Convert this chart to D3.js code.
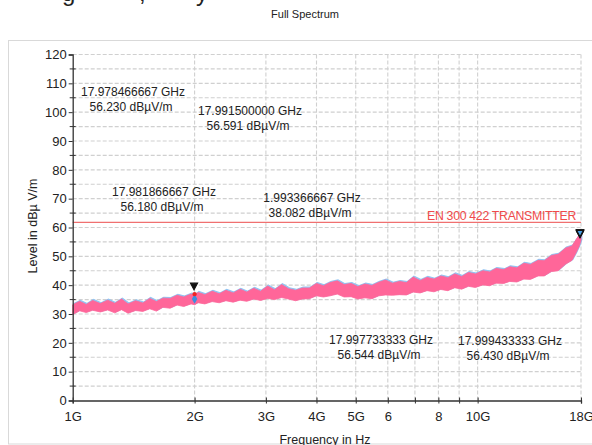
<!DOCTYPE html>
<html>
<head>
<meta charset="utf-8">
<script src="https://cdn.jsdelivr.net/npm/d3@7"></script>
<style>
  body { margin: 0; background: #fff; }
  svg { display: block; font-family: "Liberation Sans", Arial, sans-serif; }
</style>
</head>
<body>
<svg id="chart" width="592" height="445"></svg>
<script>
// trace: frequency (GHz), upper and lower edge of the peak trace (dBµV/m)
const freqGHz = [1.00, 1.04, 1.08, 1.12, 1.17, 1.22, 1.27, 1.32, 1.37, 1.43, 1.49, 1.55, 1.61, 1.67, 1.74,
  1.81, 1.88, 1.96, 2.00, 2.04, 2.12, 2.21, 2.30, 2.39, 2.49, 2.59, 2.69, 2.80, 2.91, 3.03, 3.15, 3.28,
  3.41, 3.55, 3.69, 3.84, 4.00, 4.16, 4.32, 4.50, 4.68, 4.87, 5.06, 5.27, 5.48, 5.70, 5.92, 6.16, 6.41,
  6.67, 6.93, 7.21, 7.50, 7.80, 8.11, 8.44, 8.78, 9.13, 9.49, 9.87, 10.3, 10.7, 11.1, 11.6, 12.0, 12.5,
  13.0, 13.5, 14.1, 14.6, 15.2, 15.8, 16.5, 17.1, 17.5, 17.8, 18.0];
const traceHi = [33.2, 34.4, 33.3, 34.7, 33.6, 34.8, 33.7, 35.2, 33.5, 34.6, 33.8, 35.4, 34.3, 35.5, 35.4,
  36.5, 35.9, 36.9, 36.5, 37.5, 36.7, 37.9, 37.0, 38.2, 37.3, 38.6, 37.6, 38.9, 37.9, 39.7, 38.4, 40.2,
  38.8, 38.2, 39.0, 39.0, 40.6, 39.8, 40.9, 41.5, 40.2, 40.6, 39.5, 40.4, 39.9, 41.0, 41.8, 40.7, 41.3,
  40.9, 42.8, 41.6, 42.7, 42.1, 43.2, 42.6, 43.9, 43.0, 44.4, 43.9, 45.0, 44.6, 45.8, 45.4, 46.4, 46.0,
  47.6, 47.2, 48.6, 48.5, 50.3, 50.7, 52.9, 53.6, 55.8, 57.3, 57.6];
const traceLo = [29.8, 31.1, 30.5, 31.3, 30.7, 31.4, 30.4, 31.5, 30.3, 31.2, 30.9, 31.8, 31.0, 32.3, 32.0,
  33.1, 32.6, 33.5, 33.2, 33.9, 33.5, 34.3, 33.9, 34.6, 34.1, 34.8, 34.4, 35.2, 34.7, 35.4, 35.0, 35.7,
  35.2, 34.6, 35.2, 35.3, 36.3, 35.9, 36.3, 36.9, 35.9, 36.0, 35.2, 35.6, 35.3, 36.3, 36.6, 36.5, 36.7,
  36.6, 37.6, 37.3, 38.1, 37.7, 38.5, 38.1, 39.1, 38.6, 39.6, 39.2, 40.1, 39.8, 40.7, 40.6, 41.3, 41.1,
  42.1, 42.0, 43.2, 43.2, 44.7, 45.0, 47.3, 48.6, 51.2, 53.4, 55.5];

// limit line
const limitLevel = 61.8;
const limitName = "EN 300 422 TRANSMITTER";

// markers
const markerFreqGHz = [1.993366667, 17.978466667, 17.991500000, 17.981866667, 17.997733333, 17.999433333];
const markerLevel = [38.082, 56.230, 56.591, 56.180, 56.544, 56.430];
const markerFreqText = ["1.993366667 GHz", "17.978466667 GHz", "17.991500000 GHz", "17.981866667 GHz",
  "17.997733333 GHz", "17.999433333 GHz"];
const markerLevelText = ["38.082 dBµV/m", "56.230 dBµV/m", "56.591 dBµV/m", "56.180 dBµV/m",
  "56.544 dBµV/m", "56.430 dBµV/m"];
// other detectors at the 2 GHz marker
const dotFreqGHz = [2.0];
const dotLevel = [36.9];
const diamondFreqGHz = [2.0];
const diamondLevel = [35.2];

// axes
const xTickGHz = [1, 2, 3, 4, 5, 6, 7, 8, 9, 10, 18];
const xTickText = ["1G", "2G", "3G", "4G", "5G", "6", "", "8", "", "10G", "18G"];
const yTicks = [0, 10, 20, 30, 40, 50, 60, 70, 80, 90, 100, 110, 120];
const yMinor = [5, 15, 25, 35, 45, 55, 65, 75, 85, 95, 105, 115];
const gridLevels = [5, 10, 15, 20, 25, 30, 35, 40, 45, 50, 55, 60, 65, 70, 75, 80, 85, 90, 95, 100, 105, 110, 115, 120];

const svg = d3.select('#chart');
const ink = '#222';

const x = d3.scaleLog().domain([1, 18]).range([72.7, 581]);
const y = d3.scaleLinear().domain([0, 120]).range([400.5, 54.5]);

// frame and title
svg.append('rect')
  .attr('x', 8.5).attr('y', 40.5).attr('width', 600).attr('height', 403.5)
  .attr('fill', 'none').attr('stroke', '#d9d9d9');

// cropped heading above the picture (only its descenders show)
[['g', 62], [',', 139], ['y', 196]].forEach(([t, px]) => {
  svg.append('text').attr('x', px).attr('y', 1).attr('font-size', 24).attr('fill', ink).text(t);
});

svg.append('text')
  .attr('x', 305).attr('y', 18)
  .attr('text-anchor', 'middle').attr('font-size', 11).attr('fill', ink)
  .text('Full Spectrum');

// grid
const grid = svg.append('g').attr('class', 'grid');
grid.selectAll('line.h')
  .data(gridLevels)
  .join('line')
  .attr('class', 'h')
  .attr('x1', x(1)).attr('x2', x(18))
  .attr('y1', d => y(d)).attr('y2', d => y(d))
  .style('stroke', '#d0d0d0').style('stroke-width', 1.1).style('stroke-dasharray', '4,2');
grid.selectAll('line.v')
  .data(xTickGHz.slice(1))
  .join('line')
  .attr('class', 'v')
  .attr('y1', y(0)).attr('y2', y(120))
  .attr('x1', d => x(d)).attr('x2', d => x(d))
  .style('stroke', '#d0d0d0').style('stroke-width', 1.1).style('stroke-dasharray', '4,2');

// limit line
svg.append('line')
  .attr('x1', x(1)).attr('x2', x(18))
  .attr('y1', y(limitLevel)).attr('y2', y(limitLevel))
  .attr('stroke', '#f07070').attr('stroke-width', 1.3);
svg.append('text')
  .attr('x', 576).attr('y', y(limitLevel) - 2)
  .attr('text-anchor', 'end').attr('font-size', 12.3).attr('fill', '#f04a4a')
  .attr('letter-spacing', -0.3)
  .text(limitName);

// trace: light blue average behind, pink peak on top
const trace = freqGHz.map((f, i) => ({ f, hi: traceHi[i], lo: traceLo[i] }));
const band = d3.area()
  .x(d => x(d.f))
  .y0(d => y(d.lo))
  .y1(d => y(d.hi));
svg.append('path')
  .datum(trace)
  .attr('d', band)
  .attr('transform', 'translate(0.8,-0.9)')
  .attr('fill', '#92c4f2')
  .attr('stroke', '#92c4f2').attr('stroke-width', 1.2);
svg.append('path')
  .datum(trace)
  .attr('d', band)
  .attr('fill', '#ff6699')
  .attr('stroke', '#ff6699').attr('stroke-width', 0.8);

// detector points at 2 GHz
svg.selectAll('path.diamond')
  .data(diamondFreqGHz)
  .join('path')
  .attr('class', 'diamond')
  .attr('d', d3.symbol(d3.symbolDiamond, 26))
  .attr('transform', (d, i) => `translate(${x(d)},${y(diamondLevel[i])})`)
  .attr('fill', '#3a8ee0');
svg.selectAll('circle.dot')
  .data(dotFreqGHz)
  .join('circle')
  .attr('class', 'dot')
  .attr('cx', d => x(d)).attr('cy', (d, i) => y(dotLevel[i])).attr('r', 2.2)
  .attr('fill', '#ee2222');

// marker triangles (tip on the level)
svg.selectAll('path.marker')
  .data(markerFreqGHz)
  .join('path')
  .attr('class', 'marker')
  .attr('d', (d, i) => {
    const cx = Math.min(x(d), x(18) - 1), cy = y(markerLevel[i]) - 1;
    return `M${cx - 3.5},${cy - 6.5}L${cx + 3.5},${cy - 6.5}L${cx},${cy}Z`;
  })
  .attr('fill', (d, i) => i === 0 ? '#111' : '#4aa0e6')
  .attr('stroke', '#111').attr('stroke-width', 1.2);

// marker labels
const labelPos = [[312, 202], [133, 96], [250, 115], [164, 196], [381, 344], [510, 345]];
markerFreqGHz.forEach((f, i) => {
  const [lx, ly] = labelPos[i];
  const t = svg.append('text').attr('font-size', 12).attr('fill', ink).attr('text-anchor', 'middle');
  t.append('tspan').attr('x', lx).attr('y', ly).text(markerFreqText[i]);
  t.append('tspan').attr('x', lx - 2).attr('y', ly + 15).text(markerLevelText[i]);
});

// y axis
const yAxis = svg.append('g')
  .attr('transform', `translate(${x(1)},0)`)
  .call(d3.axisLeft(y).tickValues(yTicks).tickSize(4).tickPadding(2));
yAxis.select('.domain').attr('stroke', '#333').attr('stroke-width', 1.3);
yAxis.selectAll('.tick line').attr('stroke', '#333');
yAxis.selectAll('.tick text').attr('font-size', 13).attr('fill', ink)
  .attr('font-family', '"Liberation Sans", Arial, sans-serif');
yAxis.selectAll('line.minor')
  .data(yMinor)
  .join('line')
  .attr('class', 'minor')
  .attr('x1', -3).attr('x2', 3)
  .attr('y1', d => y(d)).attr('y2', d => y(d))
  .attr('stroke', '#333');

// x axis
const xAxis = svg.append('g')
  .attr('transform', `translate(0,${y(0)})`)
  .call(d3.axisBottom(x).tickValues(xTickGHz).tickFormat((d, i) => xTickText[i]).tickSize(3).tickPadding(8));
xAxis.select('.domain').attr('stroke', '#333').attr('stroke-width', 1.3);
xAxis.selectAll('.tick line').attr('y1', -3).attr('stroke', '#333');
xAxis.selectAll('.tick text').attr('font-size', 13).attr('fill', ink)
  .attr('font-family', '"Liberation Sans", Arial, sans-serif');

// axis titles
svg.append('text')
  .attr('transform', 'translate(37,226) rotate(-90)')
  .attr('text-anchor', 'middle').attr('font-size', 12.5).attr('fill', ink)
  .text('Level in dBµ V/m');
svg.append('text')
  .attr('x', 325).attr('y', 444)
  .attr('text-anchor', 'middle').attr('font-size', 12.5).attr('fill', ink)
  .text('Frequency in Hz');
</script>
</body>
</html>
